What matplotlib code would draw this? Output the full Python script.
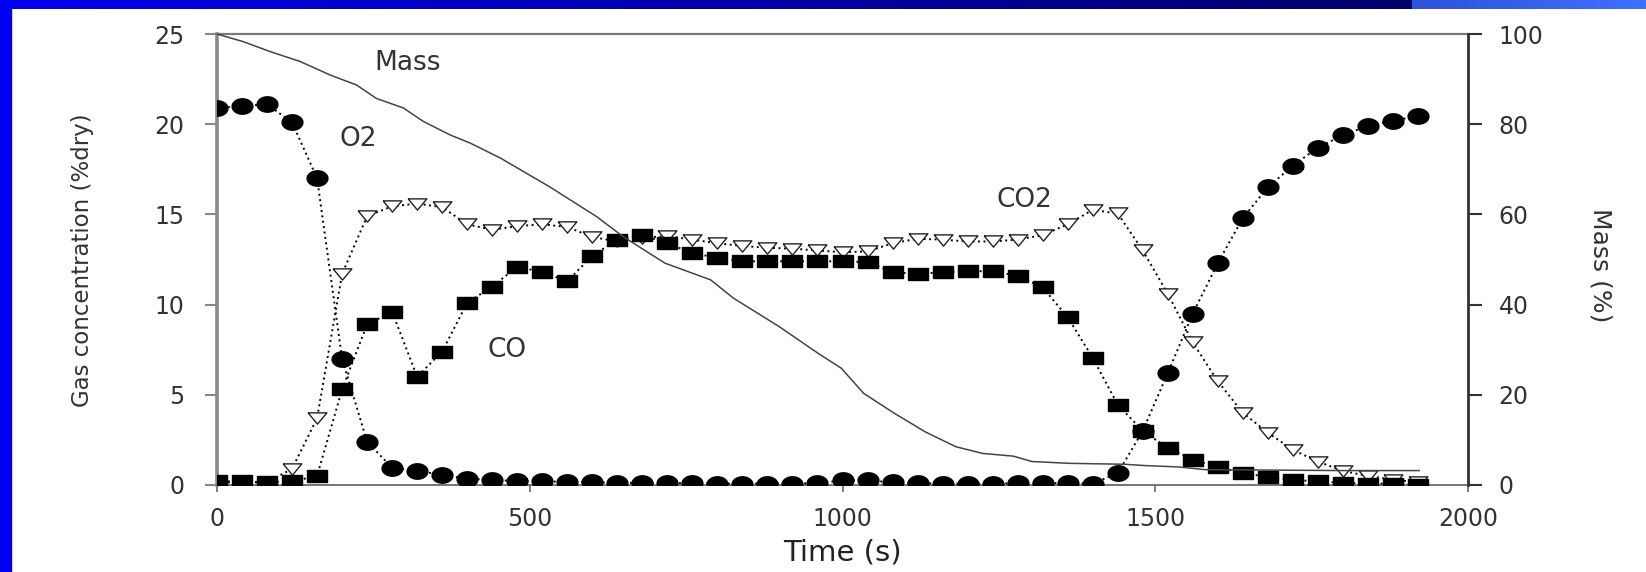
import numpy as np
import matplotlib
matplotlib.use("Agg")
import matplotlib.pyplot as plt
from matplotlib.patches import Rectangle

plt.rcParams['font.family'] = ['DejaVu Sans']

# Час вимірювань газів, с
time_s = [0, 40, 80, 120, 160, 200, 240, 280, 320, 360, 400, 440, 480, 520, 560,
          600, 640, 680, 720, 760, 800, 840, 880, 920, 960, 1000, 1040, 1080, 1120,
          1160, 1200, 1240, 1280, 1320, 1360, 1400, 1440, 1480, 1520, 1560, 1600,
          1640, 1680, 1720, 1760, 1800, 1840, 1880, 1920]

o2 = [20.9, 21.0, 21.1, 20.1, 17.0, 7.0, 2.4, 0.95, 0.8, 0.55, 0.35, 0.28, 0.22,
      0.2, 0.18, 0.15, 0.12, 0.12, 0.1, 0.1, 0.08, 0.08, 0.08, 0.08, 0.1, 0.25,
      0.25, 0.15, 0.1, 0.08, 0.08, 0.08, 0.1, 0.1, 0.1, 0.08, 0.65, 3.0, 6.2, 9.5,
      12.3, 14.8, 16.5, 17.7, 18.7, 19.4, 19.9, 20.2, 20.45]

co = [0.2, 0.2, 0.15, 0.2, 0.5, 5.3, 8.9, 9.6, 6.0, 7.4, 10.1, 11.0, 12.1, 11.8,
      11.3, 12.7, 13.6, 13.85, 13.4, 12.85, 12.6, 12.4, 12.4, 12.4, 12.4, 12.4,
      12.35, 11.8, 11.7, 11.8, 11.85, 11.85, 11.6, 10.95, 9.3, 7.05, 4.45, 3.0,
      2.05, 1.4, 1.0, 0.65, 0.45, 0.28, 0.2, 0.12, 0.08, 0.08, 0.02]

co2 = [0.15, 0.15, 0.15, 0.9, 3.7, 11.7, 14.9, 15.45, 15.6, 15.4, 14.45, 14.15,
       14.35, 14.45, 14.3, 13.75, 13.5, 13.7, 13.8, 13.6, 13.4, 13.25, 13.15, 13.1,
       13.0, 12.9, 12.95, 13.4, 13.65, 13.6, 13.5, 13.5, 13.6, 13.85, 14.45, 15.25,
       15.05, 13.0, 10.6, 7.9, 5.75, 4.0, 2.9, 1.95, 1.3, 0.78, 0.5, 0.3, 0.15]

# Маса зразка, %
mass_t = [0, 42, 85, 133, 181, 223, 255, 298, 330, 373, 405, 453, 532, 607, 649,
          716, 789, 826, 899, 961, 998, 1034, 1083, 1132, 1181, 1224, 1273, 1303,
          1364, 1450, 1485, 1538, 1580, 1800, 1922]
mass = [100, 98.3, 96.1, 93.9, 90.9, 88.7, 85.7, 83.6, 80.6, 77.6, 75.8, 72.5,
        66.1, 59.5, 55.1, 49.2, 45.5, 41.4, 35.1, 29.2, 25.9, 20.3, 15.9, 11.8,
        8.5, 7.0, 6.4, 5.2, 4.8, 4.6, 4.3, 4.0, 3.4, 3.2, 3.2]

W, H = 1646, 572
fig = plt.figure(figsize=(W / 100, H / 100), dpi=100)
fig.patch.set_facecolor('white')

# синя рамка слайду
band = fig.add_axes([0, 1 - 9 / H, 1, 9 / H])
band.axis('off')
grad = np.zeros((1, W, 3))
cut = 1412
grad[0, :cut, 2] = np.linspace(0.93, 0.42, cut)
grad[0, cut:, 0] = np.linspace(0.18, 0.25, W - cut)
grad[0, cut:, 1] = np.linspace(0.32, 0.44, W - cut)
grad[0, cut:, 2] = np.linspace(0.85, 1.0, W - cut)
band.imshow(grad, aspect='auto', extent=[0, 1, 0, 1])
fig.add_artist(Rectangle((0, 0), 11 / W, 1, transform=fig.transFigure,
                         color=(0, 0, 0.95), zorder=5))

ax = fig.add_axes([217 / W, 87 / H, 1251 / W, 451 / H])
ax2 = ax.twinx()

# маркери трохи розтягнуті по горизонталі, як на оригіналі
th = np.linspace(0, 2 * np.pi, 41)
ellipse = list(zip(np.cos(th), 0.74 * np.sin(th)))
rect = [(-1, -0.6), (1, -0.6), (1, 0.6), (-1, 0.6), (-1, -0.6)]
tri = [(-1, 0.6), (1, 0.6), (0, -0.6), (-1, 0.6)]

dots = (0, (1, 1.8))
ax.plot(time_s, co2, linestyle=dots, color='k', lw=1.4, marker=tri, ms=13.5,
        mfc='white', mec='#222222', mew=1.0, zorder=3)
ax.plot(time_s, co, linestyle=dots, color='k', lw=1.4, marker=rect, ms=14,
        mfc='black', mec='black', zorder=4)
ax.plot(time_s, o2, linestyle=dots, color='k', lw=1.4, marker=ellipse, ms=15,
        mfc='black', mec='black', zorder=5)
ax2.plot(mass_t, mass, color='#444444', lw=1.1)

ax.set_xlim(0, 2000)
ax.set_ylim(0, 25)
ax2.set_ylim(0, 100)
ax.set_xticks([0, 500, 1000, 1500, 2000])
ax.set_yticks([0, 5, 10, 15, 20, 25])
ax2.set_yticks([0, 20, 40, 60, 80, 100])

ax.spines['right'].set_visible(False)
for s in ['left', 'top', 'bottom']:
    ax2.spines[s].set_visible(False)
ax.spines['left'].set(color='#8a8a8a', lw=2.6)
ax.spines['top'].set(color='#7a7a7a', lw=1.6)
ax.spines['bottom'].set(color='#6a6a6a', lw=1.3)
ax2.spines['right'].set(color='#333333', lw=2.0)

ax.tick_params(axis='y', direction='out', length=8.5, width=1.5, color='#888888',
               pad=15, labelsize=17, labelcolor='#333333')
ax.tick_params(axis='x', direction='out', length=5, width=1.2, color='#666666',
               pad=11, labelsize=17, labelcolor='#333333')
ax2.tick_params(axis='y', direction='out', length=10, width=1.5, color='#333333',
                pad=12, labelsize=17, labelcolor='#333333')

fig.text(83 / W, 1 - 260 / H, 'Gas concentration (%dry)', rotation=90,
         ha='center', va='center', fontsize=16.5, color='#333333')
fig.text(1600 / W, 1 - 265 / H, 'Mass (%)', rotation=270,
         ha='center', va='center', fontsize=18, color='#333333')
fig.text(842 / W, 1 - 552 / H, 'Time (s)', ha='center', va='center',
         fontsize=21, color='#222222')

ax.text(304, 23.4, 'Mass', ha='center', va='center', fontsize=19, color='#333333')
ax.text(226, 19.2, 'O2', ha='center', va='center', fontsize=19, color='#333333')
ax.text(464, 7.5, 'CO', ha='center', va='center', fontsize=19, color='#333333')
ax.text(1291, 15.8, 'CO2', ha='center', va='center', fontsize=19, color='#333333')

fig.savefig('out.png', dpi=100)
